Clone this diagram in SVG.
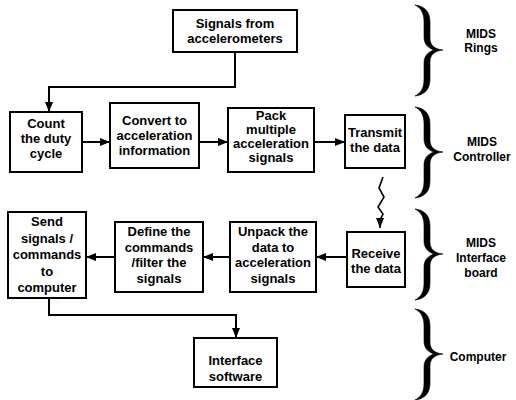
<svg xmlns="http://www.w3.org/2000/svg" width="516" height="400" viewBox="0 0 516 400">
<style>
.box{fill:#fff;stroke:#000;stroke-width:2}
.t{font-family:"Liberation Sans",Arial,sans-serif;font-weight:bold;font-size:13px;text-anchor:middle;fill:#000}
.lab{font-family:"Liberation Sans",Arial,sans-serif;font-weight:bold;font-size:12px;text-anchor:middle;fill:#000}
.c{fill:none;stroke:#000;stroke-width:2}
.br{fill:#000;stroke:#000;stroke-width:0.6}
</style>
<defs>
<marker id="ah" markerUnits="userSpaceOnUse" markerWidth="10" markerHeight="8" refX="10" refY="4" orient="auto">
<path d="M0,0 L10,4 L0,8 Z" fill="#000"/>
</marker>
<path id="brace" d="M0,0 C9,1 15,6 15,17 L15,33 C15,40 19,44 28,45 C19,46 15,50 15,57 L15,74 C15,85 9,90 0,91 C6,88 9,83 9,74 L9,58 C9,51 13,47 19,45 C13,43 9,39 9,32 L9,17 C9,8 6,3 0,0 Z"/>
</defs>

<g id="connectors">
<polyline class="c" points="235,52 235,87 49,87 49,112" marker-end="url(#ah)"/>
<line class="c" x1="82" y1="142" x2="110" y2="142" marker-end="url(#ah)"/>
<line class="c" x1="199" y1="142" x2="228" y2="142" marker-end="url(#ah)"/>
<line class="c" x1="314" y1="142" x2="345" y2="142" marker-end="url(#ah)"/>
<polyline fill="none" stroke="#000" stroke-width="1.6" points="383,177 379,188 384,197 378,207 383,214 380,220 380,228" marker-end="url(#ah)"/>
<line class="c" x1="347" y1="257" x2="316" y2="257" marker-end="url(#ah)"/>
<line class="c" x1="230" y1="257" x2="203" y2="257" marker-end="url(#ah)"/>
<line class="c" x1="115" y1="257" x2="86" y2="257" marker-end="url(#ah)"/>
<polyline class="c" points="49,298 49,315 236,315 236,338" marker-end="url(#ah)"/>
</g>

<g id="n-signals">
<rect class="box" x="173" y="10" width="124" height="42"/>
<text class="t" x="235" y="28">Signals from</text>
<text class="t" x="235" y="43">accelerometers</text>
</g>
<g id="n-count">
<rect class="box" x="10" y="112" width="72" height="60"/>
<text class="t" x="46" y="128">Count</text>
<text class="t" x="46" y="143">the duty</text>
<text class="t" x="46" y="158">cycle</text>
</g>
<g id="n-convert">
<rect class="box" x="110" y="103" width="89" height="65"/>
<text class="t" x="154.5" y="125">Convert to</text>
<text class="t" x="154.5" y="140">acceleration</text>
<text class="t" x="154.5" y="155">information</text>
</g>
<g id="n-pack">
<rect class="box" x="228" y="108" width="86" height="64"/>
<text class="t" x="271" y="120">Pack</text>
<text class="t" x="271" y="134">multiple</text>
<text class="t" x="271" y="148">acceleration</text>
<text class="t" x="271" y="162">signals</text>
</g>
<g id="n-transmit">
<rect class="box" x="345" y="115" width="60" height="53"/>
<text class="t" x="375" y="137">Transmit</text>
<text class="t" x="375" y="152">the data</text>
</g>
<g id="n-receive">
<rect class="box" x="347" y="232" width="58" height="55"/>
<text class="t" x="376" y="258">Receive</text>
<text class="t" x="376" y="273">the data</text>
</g>
<g id="n-unpack">
<rect class="box" x="230" y="222" width="86" height="70"/>
<text class="t" x="273" y="236">Unpack the</text>
<text class="t" x="273" y="251.5">data to</text>
<text class="t" x="273" y="267">acceleration</text>
<text class="t" x="273" y="282.5">signals</text>
</g>
<g id="n-define">
<rect class="box" x="115" y="222" width="88" height="70"/>
<text class="t" x="159" y="236">Define the</text>
<text class="t" x="159" y="251.5">commands</text>
<text class="t" x="159" y="267">/filter the</text>
<text class="t" x="159" y="282.5">signals</text>
</g>
<g id="n-send">
<rect class="box" x="8" y="212" width="78" height="86"/>
<text class="t" x="47" y="226">Send</text>
<text class="t" x="47" y="242.5">signals /</text>
<text class="t" x="47" y="259">commands</text>
<text class="t" x="47" y="275.5">to</text>
<text class="t" x="47" y="292">computer</text>
</g>
<g id="n-interface">
<rect class="box" x="194" y="338" width="83" height="49"/>
<text class="t" x="235.5" y="365">Interface</text>
<text class="t" x="235.5" y="381">software</text>
</g>

<g id="braces">
<use href="#brace" class="br" transform="translate(415,5)"/>
<use href="#brace" class="br" transform="translate(415,107)"/>
<use href="#brace" class="br" transform="translate(415,209)"/>
<use href="#brace" class="br" transform="translate(415,309)"/>
</g>
<g id="labels">
<text class="lab" x="481" y="38">MIDS</text>
<text class="lab" x="481" y="52">Rings</text>
<text class="lab" x="482" y="146">MIDS</text>
<text class="lab" x="482" y="161">Controller</text>
<text class="lab" x="481" y="247">MIDS</text>
<text class="lab" x="481" y="262">Interface</text>
<text class="lab" x="481" y="277">board</text>
<text class="lab" x="478" y="361">Computer</text>
</g>
</svg>
